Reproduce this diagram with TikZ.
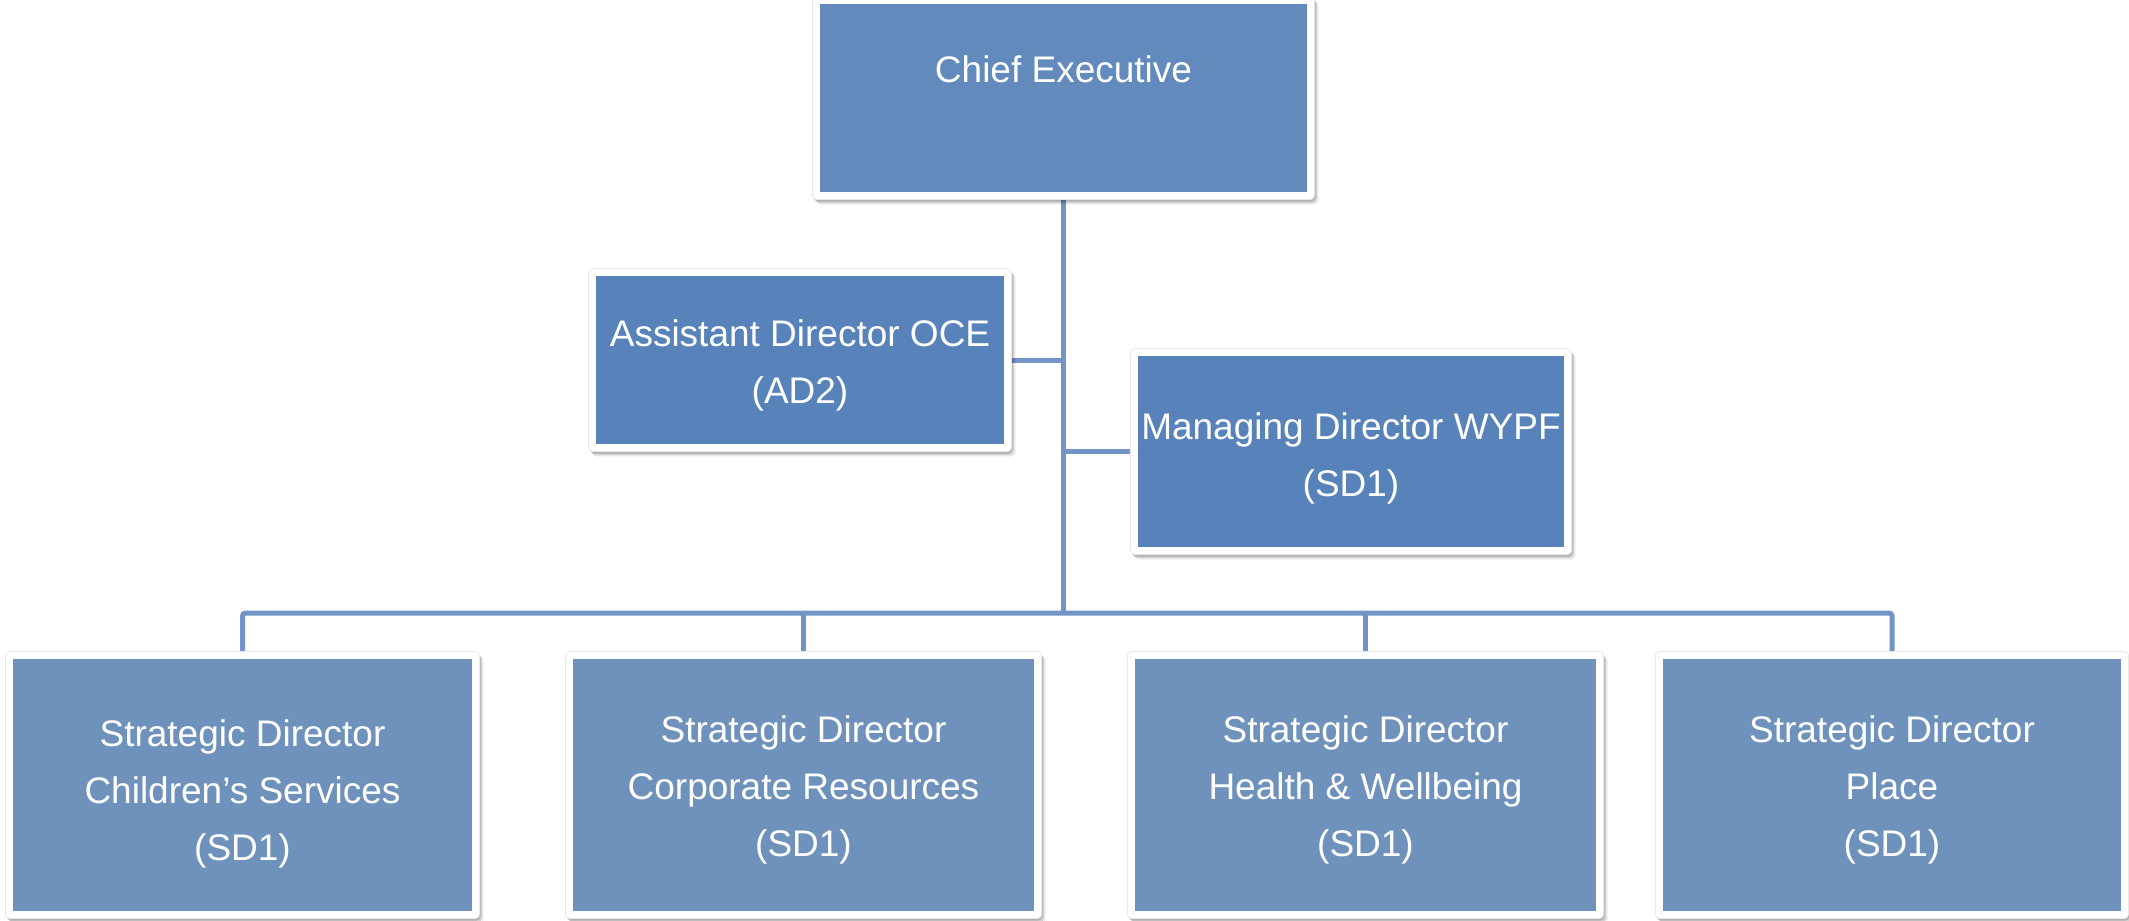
\documentclass[tikz,border=0pt]{standalone}
\usepackage{fontspec}
\setmainfont{Liberation Sans}
\usetikzlibrary{shadows,backgrounds}
\definecolor{ceblue}{HTML}{628ABD}
\definecolor{adblue}{HTML}{5883BA}
\definecolor{sdblue}{HTML}{6F92BD}
\definecolor{linkblue}{HTML}{7294C6}
\tikzset{
  frame/.style={fill=white, draw=black!9, line width=0.7pt, rounded corners=4pt, inner sep=0pt, outer sep=0pt,
    general shadow={fill=black, opacity=.07, shadow xshift=4pt, shadow yshift=-5pt},
    general shadow={fill=black, opacity=.12, shadow xshift=2.5pt, shadow yshift=-3.5pt},
    general shadow={fill=black, opacity=.15, shadow xshift=1pt, shadow yshift=-2pt}},
  innerbox/.style={inner sep=0pt, outer sep=0pt, draw=none},
  lbl/.style={text=white, font=\fontsize{37}{57}\selectfont, align=center, inner sep=0pt},
  conn/.style={draw=linkblue, line width=5pt}
}
\newcommand\orgbox[6]{%
  \node[frame, minimum width=#4pt+15pt, minimum height=#5pt+15pt] (#1) at (#2,#3) {};
  \node[innerbox, fill=#6, minimum width=#4pt, minimum height=#5pt] (#1-in) at (#2,#3) {};
}
\begin{document}
\begin{tikzpicture}[x=1pt,y=-1pt]
\useasboundingbox (0,0) rectangle (2129,921);
% boxes: name, cx, cy, inner w, inner h, colour
\orgbox{ce}{1063.5}{98}{487}{188}{ceblue}
\orgbox{ad}{800}{360}{408}{168}{adblue}
\orgbox{md}{1351}{451.5}{426}{191}{adblue}
\orgbox{sda}{242.5}{785}{459}{252}{sdblue}
\orgbox{sdb}{803.5}{785}{461}{252}{sdblue}
\orgbox{sdc}{1365.5}{785}{461}{252}{sdblue}
\orgbox{sdd}{1892}{785}{458}{252}{sdblue}
% labels
\node[lbl] (ce-t) at (1063.5,69) {Chief Executive};
\node[lbl] (ad-t) at (800,365) {Assistant Director OCE\\(AD2)};
\node[lbl] (md-t) at (1351,458) {Managing Director WYPF\\(SD1)};
\node[lbl] (sda-t) at (242.5,794) {Strategic Director\\Children’s Services\\(SD1)};
\node[lbl] (sdb-t) at (803.5,790) {Strategic Director\\Corporate Resources\\(SD1)};
\node[lbl] (sdc-t) at (1365.5,790) {Strategic Director\\Health \& Wellbeing\\(SD1)};
\node[lbl] (sdd-t) at (1892,790) {Strategic Director\\Place\\(SD1)};
% connectors
\coordinate (bus) at (1064,613);
\begin{pgfonlayer}{background}
  \draw[conn] (ce.south) -- (ce.south |- bus);
  \draw[conn] (ad.east) -- (ad.east -| ce.south);
  \draw[conn] (md.west) -- (md.west -| ce.south);
  \draw[conn, rounded corners=3pt] (sda.north) |- (sdd.north |- bus) -- (sdd.north);
  \draw[conn] (sdb.north) -- (sdb.north |- bus);
  \draw[conn] (sdc.north) -- (sdc.north |- bus);
\end{pgfonlayer}
\end{tikzpicture}
\end{document}
